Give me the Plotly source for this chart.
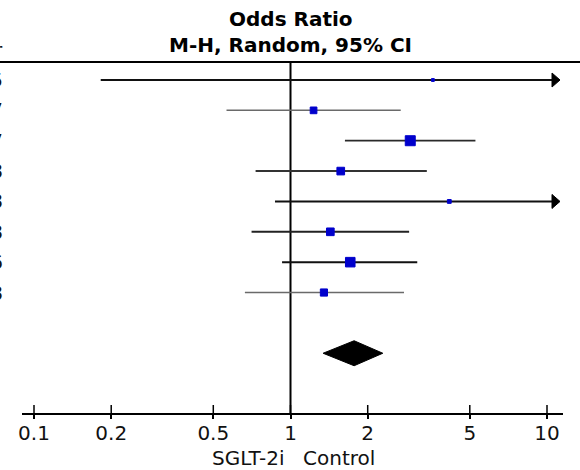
import math
import plotly.graph_objects as go

# ---------------- data ----------------
years = ["2015", "2017", "2017", "2018", "2018", "2018", "2016", "2018"]
or_est = [3.59, 1.23, 2.93, 1.57, 4.16, 1.43, 1.71, 1.35]
ci_low = [0.182, 0.563, 1.63, 0.731, 0.87, 0.705, 0.927, 0.664]
ci_high = [70.8, 2.69, 5.26, 3.40, 19.9, 2.90, 3.12, 2.77]
weights = [1.9, 10.5, 23.4, 13.7, 3.4, 13.7, 21.4, 12.0]
pooled = {"est": 1.77, "low": 1.34, "high": 2.29}
tick_vals = [0.1, 0.2, 0.5, 1, 2, 5, 10]
tick_text = ["0.1", "0.2", "0.5", "1", "2", "5", "10"]
favours_left = "SGLT-2i"
favours_right = "Control"
title_lines = ["Odds Ratio", "M-H, Random, 95% CI"]
year_header = "Year"

# ---------------- styles / geometry ----------------
FONT = "DejaVu Sans"
W, H = 580, 470
L, R, T, B = 22, 17, 62, 57
PW, PH = W - L - R, H - T - B
ONE_PX, DECADE_PX = 290.5, 256.5
X0_LOG = (L - ONE_PX) / DECADE_PX
X1_LOG = (W - R - ONE_PX) / DECADE_PX
ROW0_PX, ROW_STEP = 80.0, 30.36
Y_TOP = 1 + (T - ROW0_PX) / ROW_STEP
Y_BOT = 1 + (H - B - ROW0_PX) / ROW_STEP

line_colors = ["#111111", "#6a6a6a", "#2a2a2a", "#333333", "#111111", "#222222", "#111111", "#6a6a6a"]
line_widths = [2.0, 1.5, 1.8, 2.0, 2.0, 2.0, 2.0, 1.5]
MARKER_COLOR = "#0000cc"
MAX_MARKER = 10.0

ARROW_TIP_LOG = X1_LOG - 3 / DECADE_PX
ARROW_BASE_LOG = ARROW_TIP_LOG - 8 / DECADE_PX
ARROW_HALF = 7 / ROW_STEP


def px_to_paper_x(px):
    return (px - L) / PW


def px_to_paper_y(py):
    return (H - B - py) / PH


def log_to_paper_x(lg):
    return (lg - X0_LOG) / (X1_LOG - X0_LOG)


fig = go.Figure()

rows = list(range(1, len(or_est) + 1))
pooled_row = len(or_est) + 2

# vertical line of no effect
fig.add_trace(go.Scatter(x=[1, 1], y=[Y_TOP, Y_BOT], mode="lines",
                         line=dict(color="black", width=2), hoverinfo="skip", showlegend=False))

# CI lines and clipping arrows
for i, y in enumerate(rows):
    lo, hi = ci_low[i], ci_high[i]
    clipped = math.log10(hi) > ARROW_TIP_LOG
    x_end = 10 ** ARROW_BASE_LOG if clipped else hi
    fig.add_trace(go.Scatter(x=[lo, x_end], y=[y, y], mode="lines",
                             line=dict(color=line_colors[i], width=line_widths[i]),
                             hoverinfo="skip", showlegend=False))
    if clipped:
        fig.add_trace(go.Scatter(
            x=[10 ** ARROW_TIP_LOG, 10 ** ARROW_BASE_LOG, 10 ** ARROW_BASE_LOG, 10 ** ARROW_TIP_LOG],
            y=[y, y - ARROW_HALF, y + ARROW_HALF, y],
            mode="lines", fill="toself", fillcolor="black",
            line=dict(color="black", width=1), hoverinfo="skip", showlegend=False))

# study point estimates
wmax = max(weights)
sizes = [MAX_MARKER * math.sqrt(w / wmax) for w in weights]
fig.add_trace(go.Scatter(x=or_est, y=rows, mode="markers",
                         marker=dict(symbol="square", size=sizes, color=MARKER_COLOR, opacity=1,
                                     line=dict(width=1, color=MARKER_COLOR)),
                         showlegend=False))

# pooled diamond
dh = 12.5 / ROW_STEP
fig.add_trace(go.Scatter(
    x=[pooled["low"], pooled["est"], pooled["high"], pooled["est"], pooled["low"]],
    y=[pooled_row, pooled_row - dh, pooled_row, pooled_row + dh, pooled_row],
    mode="lines", fill="toself", fillcolor="black",
    line=dict(color="black", width=1), hoverinfo="skip", showlegend=False))

# upward half of axis ticks
up = 8 / ROW_STEP
for tv in tick_vals:
    fig.add_trace(go.Scatter(x=[tv, tv], y=[Y_BOT, Y_BOT - up], mode="lines",
                             line=dict(color="black", width=1.5), hoverinfo="skip", showlegend=False))

annotations = []
cx = log_to_paper_x(0)
for txt, py in zip(title_lines, [18.5, 45.3]):
    annotations.append(dict(text="<b>%s</b>" % txt, x=cx, y=px_to_paper_y(py), xref="paper", yref="paper",
                            xanchor="center", yanchor="middle", showarrow=False,
                            font=dict(family=FONT, size=20, color="black")))

annotations.append(dict(text=favours_left, x=cx, y=px_to_paper_y(458), xref="paper", yref="paper",
                        xanchor="right", yanchor="middle", xshift=-6, showarrow=False, borderpad=0,
                        font=dict(family=FONT, size=20, color="#111")))
annotations.append(dict(text=favours_right, x=cx, y=px_to_paper_y(458), xref="paper", yref="paper",
                        xanchor="left", yanchor="middle", xshift=11, showarrow=False, borderpad=0,
                        font=dict(family=FONT, size=20, color="#111")))

# truncated year column at left edge (the reference is cropped here)
annotations.append(dict(text=year_header, x=px_to_paper_x(5), y=px_to_paper_y(50), xref="paper", yref="paper",
                        xanchor="right", yanchor="middle", showarrow=False,
                        font=dict(family=FONT, size=20, color="#111")))
for i, y in enumerate(rows):
    annotations.append(dict(text=years[i], x=px_to_paper_x(5), y=y, xref="paper", yref="y",
                            xanchor="right", yanchor="middle", showarrow=False,
                            font=dict(family=FONT, size=20, color="#111")))

shapes = [dict(type="line", xref="paper", yref="paper",
               x0=px_to_paper_x(-2), x1=px_to_paper_x(W + 2), y0=1, y1=1,
               line=dict(color="black", width=2))]

fig.update_layout(
    width=W, height=H,
    margin=dict(l=L, r=R, t=T, b=B, pad=0),
    paper_bgcolor="white", plot_bgcolor="white",
    showlegend=False,
    annotations=annotations,
    shapes=shapes,
    xaxis=dict(type="log", range=[X0_LOG, X1_LOG], tickvals=tick_vals, ticktext=tick_text,
               ticks="outside", ticklen=4, tickwidth=1.5, tickcolor="black",
               ticklabelstandoff=-3,
               showline=True, linecolor="black", linewidth=1.5,
               showgrid=False, zeroline=False, fixedrange=True,
               tickfont=dict(family=FONT, size=20, color="#111")),
    yaxis=dict(range=[Y_BOT, Y_TOP], visible=False, showgrid=False, zeroline=False, fixedrange=True),
)

fig.write_html("out.html")
